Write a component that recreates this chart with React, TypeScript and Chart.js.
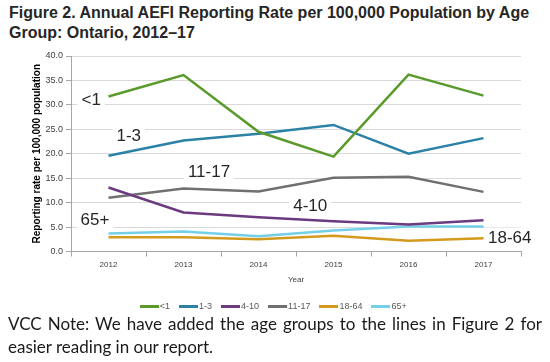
import React, { useEffect, useRef } from 'react';
import { Chart, registerables } from 'chart.js';

Chart.register(...registerables);

const years = ['2012', '2013', '2014', '2015', '2016', '2017'];
const seriesNames = ['<1', '1-3', '4-10', '11-17', '18-64', '65+'];
const under1 = [31.7, 36.1, 24.5, 19.4, 36.2, 31.9];
const age1to3 = [19.6, 22.7, 24.1, 25.9, 20.0, 23.2];
const age4to10 = [13.1, 8.0, 7.0, 6.2, 5.5, 6.4];
const age11to17 = [11.0, 12.9, 12.3, 15.1, 15.3, 12.2];
const age18to64 = [2.9, 2.9, 2.5, 3.2, 2.2, 2.7];
const age65plus = [3.7, 4.1, 3.1, 4.3, 5.1, 5.1];
const seriesColors = ['#5a9a2b', '#2b82a6', '#6b3a7f', '#707070', '#d49a1e', '#74cfe8'];

// In-chart age-group labels, anchored in data units (category index, rate)
const labelTexts = ['<1', '1-3', '11-17', '4-10', '65+', '18-64'];
const labelX = [-0.23, 0.27, 1.34, 2.69, -0.18, 5.35];
const labelY = [31.2, 23.8, 16.4, 9.4, 6.5, 2.85];

const titleLines = ['Figure 2. Annual AEFI Reporting Rate per 100,000 Population by Age', 'Group: Ontario, 2012\u201317'];
const yAxisTitle = 'Reporting rate per 100,000 population';
const xAxisTitle = 'Year';
const noteText = 'VCC Note: We have added the age groups to the lines in Figure 2 for easier reading in our report.';

const groupLabelPlugin = {
  id: 'groupLabels',
  beforeDatasetsDraw(chart: any) {
    const { ctx, scales } = chart;
    const xs = scales.x;
    const ys = scales.y;
    const x0 = xs.getPixelForValue(0);
    const step = xs.getPixelForValue(1) - x0;
    ctx.save();
    ctx.font = '17px "Liberation Sans", Arial, sans-serif';
    ctx.textAlign = 'center';
    ctx.textBaseline = 'middle';
    for (let i = 0; i < labelTexts.length; i++) {
      const px = x0 + labelX[i] * step;
      const py = ys.getPixelForValue(labelY[i]);
      const w = ctx.measureText(labelTexts[i]).width;
      ctx.fillStyle = '#ffffff';
      ctx.fillRect(px - w / 2 - 4, py - 10, w + 8, 20);
      ctx.fillStyle = '#262626';
      ctx.fillText(labelTexts[i], px, py + 1);
    }
    ctx.restore();
  },
};

function makeLegendLine(color: string) {
  const c = document.createElement('canvas');
  c.width = 19;
  c.height = 3;
  const g = c.getContext('2d') as CanvasRenderingContext2D;
  g.fillStyle = color;
  g.fillRect(0, 0, 19, 3);
  return c;
}

export default function App() {
  const canvasRef = useRef<HTMLCanvasElement | null>(null);

  useEffect(() => {
    const seriesData = [under1, age1to3, age4to10, age11to17, age18to64, age65plus];
    const chart = new Chart(canvasRef.current as HTMLCanvasElement, {
      type: 'line',
      data: {
        labels: years,
        datasets: seriesNames.map((name, i) => ({
          label: name,
          data: seriesData[i],
          borderColor: seriesColors[i],
          backgroundColor: seriesColors[i],
          borderWidth: 2.5,
          pointRadius: 0,
          pointStyle: makeLegendLine(seriesColors[i]),
          tension: 0,
          yAxisID: 'y',
        })),
      },
      options: {
        animation: false,
        responsive: false,
        maintainAspectRatio: false,
        layout: { padding: { top: 12, left: 0, right: 0, bottom: 0 } },
        plugins: {
          tooltip: { enabled: false },
          title: { display: false },
          legend: {
            display: true,
            position: 'bottom',
            labels: {
              usePointStyle: true,
              pointStyleWidth: 12,
              boxHeight: 3,
              padding: 12.5,
              color: '#595959',
              font: { family: '"Liberation Sans", Arial, sans-serif', size: 9 },
            },
          },
        },
        scales: {
          x: {
            offset: true,
            grid: {
              display: true,
              drawOnChartArea: false,
              offset: true,
              tickLength: 5,
              color: '#a6a6a6',
            },
            border: { display: true, color: '#a6a6a6' },
            ticks: {
              padding: 3,
              color: '#404040',
              font: { family: '"Liberation Sans", Arial, sans-serif', size: 8 },
            },
            title: {
              display: true,
              text: xAxisTitle,
              color: '#404040',
              padding: { top: 0, bottom: 5 },
              font: { family: '"Liberation Sans", Arial, sans-serif', size: 8 },
            },
            afterFit(scale: any) {
              scale.height = 38;
            },
          },
          y: {
            min: 0,
            max: 40,
            ticks: {
              stepSize: 5,
              padding: 3,
              color: '#404040',
              font: { family: '"Liberation Sans", Arial, sans-serif', size: 9 },
              callback: (v: any) => Number(v).toFixed(1),
            },
            grid: {
              color: '#d9d9d9',
              tickLength: 5,
              tickColor: '#a6a6a6',
            },
            border: { display: true, color: '#a6a6a6' },
            title: {
              display: true,
              text: yAxisTitle,
              color: '#000000',
              padding: { top: 31, bottom: 0 },
              font: { family: '"Liberation Sans", Arial, sans-serif', size: 10, weight: 'bold' },
            },
            afterFit(scale: any) {
              scale.width = 71;
            },
          },
          yRight: {
            position: 'right',
            display: true,
            grid: { display: false },
            border: { display: false },
            ticks: { display: false },
            afterFit(scale: any) {
              scale.width = 29;
            },
          },
        },
      },
      plugins: [groupLabelPlugin],
    } as any);
    return () => chart.destroy();
  }, []);

  return (
    <div style={{ position: 'fixed', left: 0, top: 0, width: 550, height: 362, background: '#ffffff', overflow: 'hidden' }}>
      <div
        style={{
          position: 'absolute',
          left: 9,
          top: 3,
          font: 'bold 16px "Liberation Sans", Arial, sans-serif',
          lineHeight: '20px',
          color: '#262626',
          whiteSpace: 'nowrap',
        }}
      >
        <div>{titleLines[0]}</div>
        <div>{titleLines[1]}</div>
      </div>
      <canvas
        ref={canvasRef}
        width={550}
        height={277}
        style={{ position: 'absolute', left: 0, top: 44, width: 550, height: 277 }}
      />
      <div
        style={{
          position: 'absolute',
          left: 8,
          top: 312,
          width: 534,
          font: '17px Lato, "Open Sans", sans-serif',
          lineHeight: '23px',
          color: '#1a1a1a',
          textAlign: 'justify',
        }}
      >
        {noteText}
      </div>
    </div>
  );
}
